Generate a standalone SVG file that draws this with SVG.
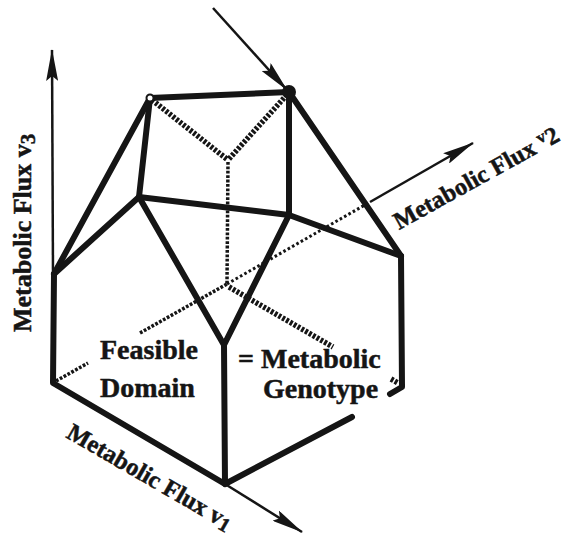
<svg xmlns="http://www.w3.org/2000/svg" width="564" height="539" viewBox="0 0 564 539">
<style>
.e{stroke:#151515;stroke-width:6;stroke-linecap:round;stroke-linejoin:round;fill:none}
.h{stroke:#151515;stroke-width:5.5;stroke-dasharray:2.8 1.6;fill:none}
.hs{stroke:#151515;stroke-width:3.5;stroke-dasharray:2.8 1.6;fill:none}
.ax{stroke:#151515;stroke-width:2.5;fill:none}
.dt{stroke:#151515;stroke-width:3;stroke-dasharray:2.6 2.4;fill:none}
text{font-family:"Liberation Serif","Times New Roman",serif;font-weight:bold;fill:#151515;stroke:#151515;stroke-width:0.5}
.lb{font-size:28px}
.al{font-size:24.5px}
</style>
<defs>
<marker id="arr" viewBox="0 0 32 12" refX="31" refY="6" markerWidth="32" markerHeight="12" markerUnits="userSpaceOnUse" orient="auto">
<path d="M0,0 L32,6 L0,12 L5,6 z" fill="#151515"/>
</marker>
</defs>
<rect width="564" height="539" fill="#ffffff"/>
<g id="connectors">
<g id="axes">
<line class="ax" x1="53" y1="276" x2="52" y2="50" marker-end="url(#arr)"/>
<line class="ax" x1="225" y1="484" x2="302" y2="532" marker-end="url(#arr)"/>
<line class="ax" x1="370" y1="202" x2="473" y2="143" marker-end="url(#arr)"/>
<line class="ax" x1="213" y1="8" x2="287" y2="90" marker-end="url(#arr)"/>
<path class="dt" d="M227,284 L370,202"/>
</g>
<g id="hidden-edges">
<path class="h" d="M152,100 L228,160 M284,98 L228,160"/>
<path class="hs" d="M228,162 L227,284"/>
<path class="hs" d="M56,381 L88,363 M140,333 L227,284"/>
<path class="h" d="M229,287 L333,347 M391,379 L398,383"/>
</g>
<g id="edges">
<path class="e" d="M150,98 L289,92"/>
<path class="e" d="M150,98 L139,197"/>
<path class="e" d="M150,98 L54,274"/>
<path class="e" d="M289,92 L289,215"/>
<path class="e" d="M289,92 L401,256"/>
<path class="e" d="M139,197 L54,274"/>
<path class="e" d="M139,197 L289,215 L401,256"/>
<path class="e" d="M139,197 L224,345 L289,215"/>
<path class="e" d="M54,274 L53,383 L225,484 L224,345"/>
<path class="e" d="M225,484 L352,417"/>
<path class="e" d="M401,256 L402,387 L390,394"/>
</g>
</g>
<g id="vertex-optimum"><circle cx="289" cy="92" r="7" fill="#151515"/></g>
<g id="vertex-top-left"><circle cx="150" cy="98" r="3.5" fill="#ffffff" stroke="#151515" stroke-width="2"/></g>
<g id="labels">
<text class="lb" x="100" y="359">Feasible</text>
<text class="lb" x="100" y="397">Domain</text>
<text class="lb" x="238" y="368">= Metabolic</text>
<text class="lb" x="263" y="398">Genotype</text>
<text class="al" style="font-size:26px" transform="translate(31,332) rotate(-90)">Metabolic Flux v<tspan dy="4" font-size="21">3</tspan></text>
<text class="al" transform="translate(399,230) rotate(-29)">Metabolic Flux <tspan dy="-7" font-size="17">v</tspan><tspan dy="7">2</tspan></text>
<text class="al" transform="translate(65,437) rotate(30)">Metabolic Flux v<tspan dy="3" font-size="20">1</tspan></text>
</g>
</svg>
